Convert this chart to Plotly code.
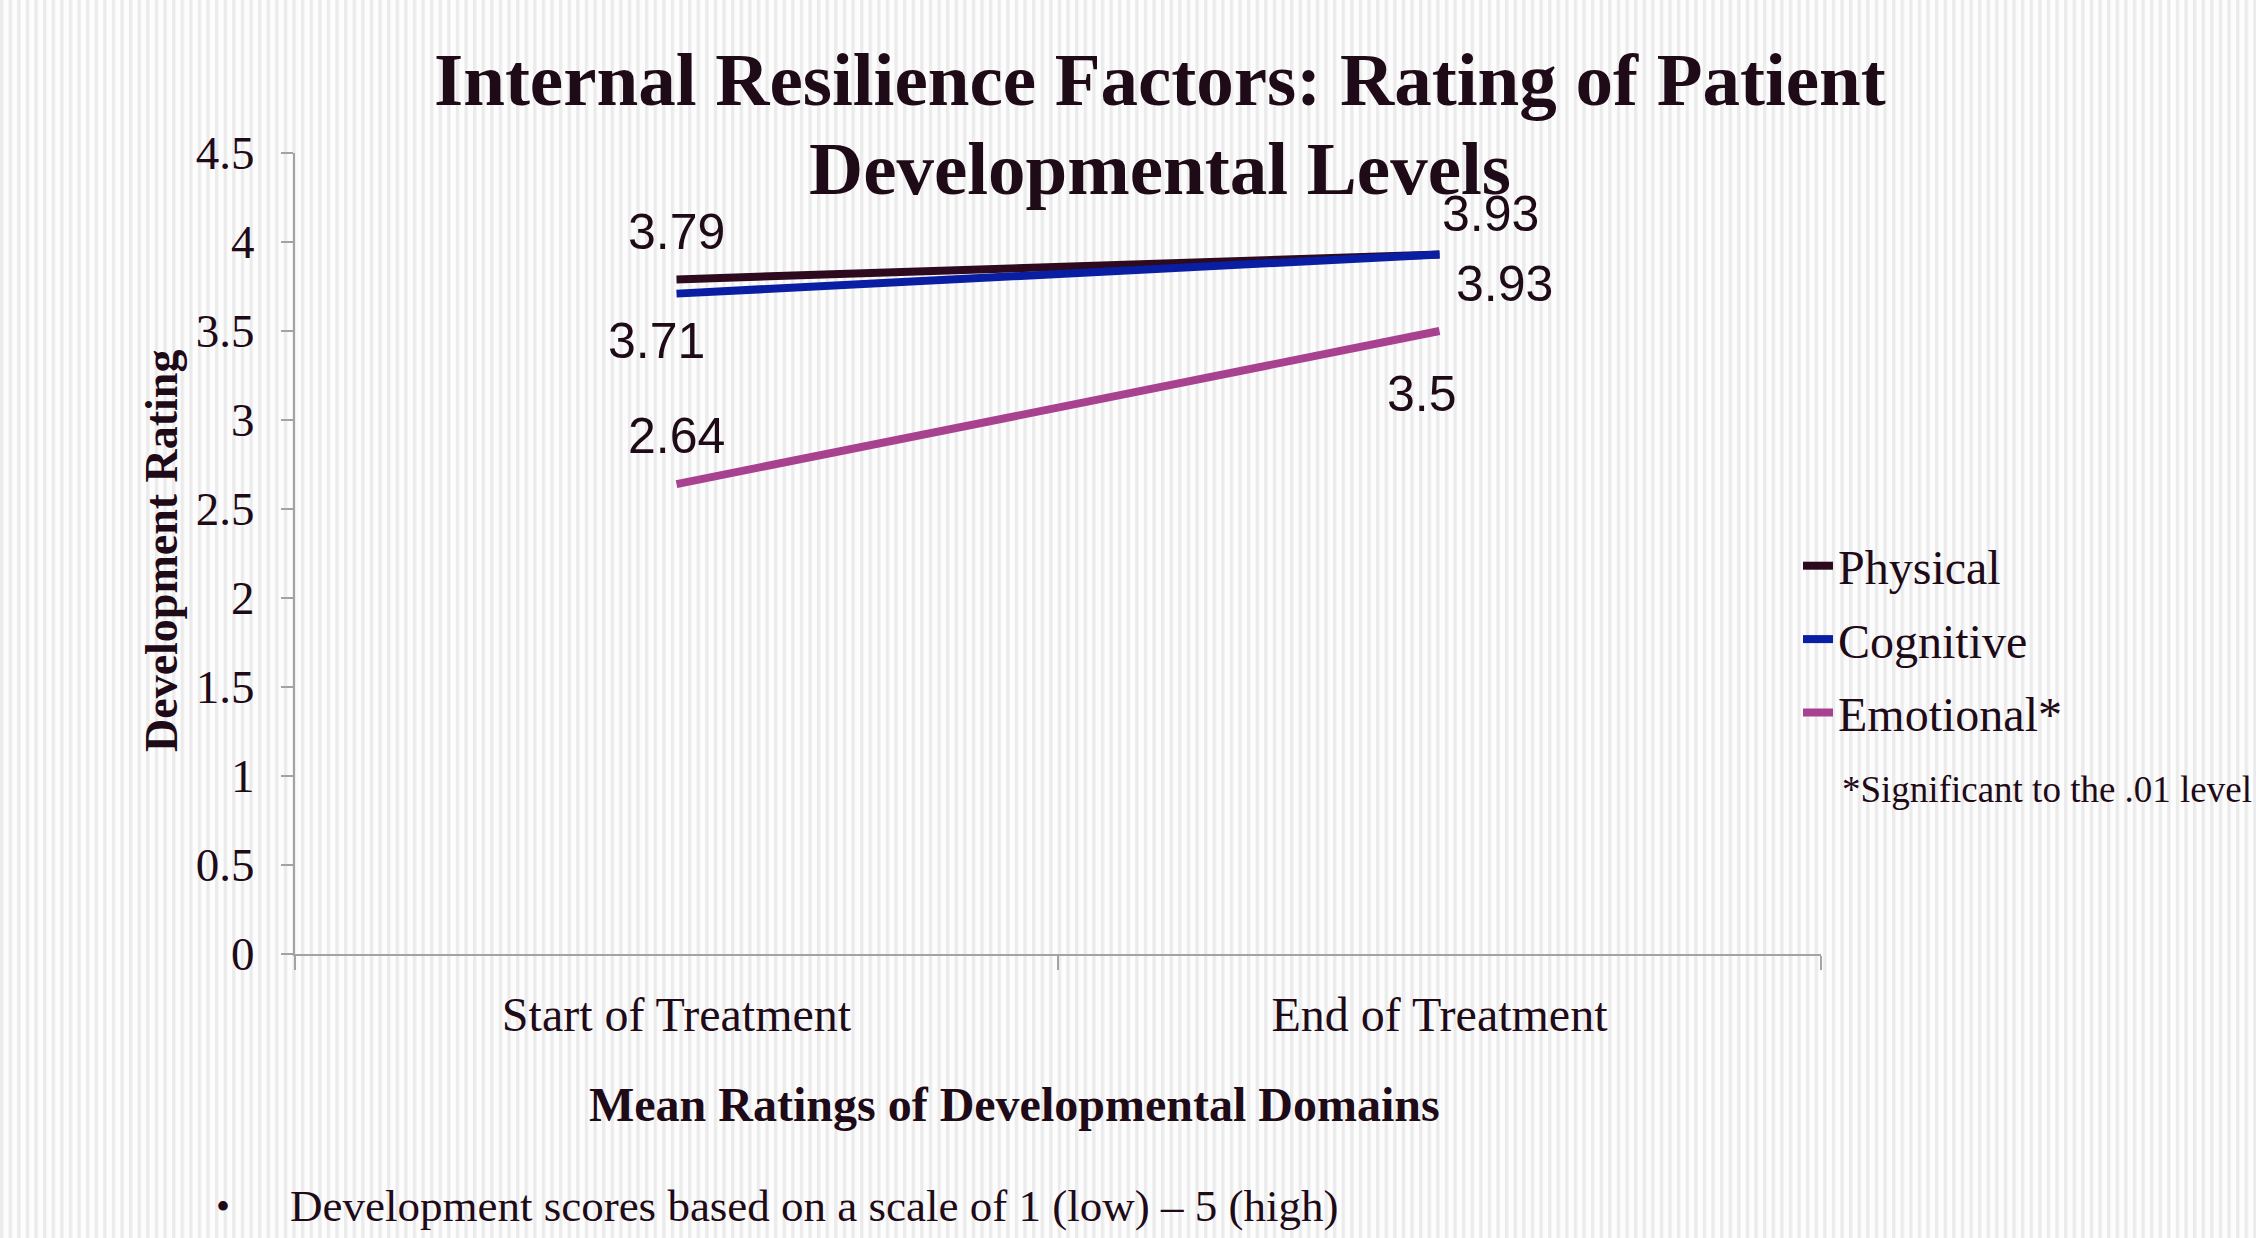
import base64
import plotly.graph_objects as go

# ---- data ----
categories = ["Start of Treatment", "End of Treatment"]
series_names = ["Physical", "Cognitive", "Emotional*"]
physical = [3.79, 3.93]
cognitive = [3.71, 3.93]
emotional = [2.64, 3.50]
value_labels_physical = ["3.79", "3.93"]
value_labels_cognitive = ["3.71", "3.93"]
value_labels_emotional = ["2.64", "3.5"]
y_ticks = [0, 0.5, 1, 1.5, 2, 2.5, 3, 3.5, 4, 4.5]
y_tick_text = ["0", "0.5", "1", "1.5", "2", "2.5", "3", "3.5", "4", "4.5"]

# ---- styles / layout constants ----
W, H = 2256, 1238
L, R, T, B = 295, W - 1821, 153, H - 954
PW, PH = W - L - R, H - T - B
TXT = "#1f0a17"
AXIS = "#a3a3a3"
colors = ["#2d0a1e", "#0a1ea3", "#a8418f"]
serif = "Liberation Serif, Times New Roman, serif"
sans = "Liberation Sans, Arial, sans-serif"

# label pixel offsets (xshift, yshift) per series per point
offsets = [
    [(0, 47), (51, 40)],
    [(-20, -47), (65, -30)],
    [(0, 48), (-18, -63)],
]

def px_x(p):
    return (p - L) / PW

def px_y(p):
    return (H - B - p) / PH

fig = go.Figure()
all_vals = [physical, cognitive, emotional]
all_labels = [value_labels_physical, value_labels_cognitive, value_labels_emotional]
for name, vals, col in zip(series_names, all_vals, colors):
    fig.add_trace(go.Scatter(
        x=categories, y=vals, name=name, mode="lines",
        line=dict(color=col, width=8), legendgroup=name,
    ))

annotations = []
for vals, labs, offs in zip(all_vals, all_labels, offsets):
    for cat, v, lab, (dx, dy) in zip(categories, vals, labs, offs):
        annotations.append(dict(
            x=cat, y=v, xref="x", yref="y", text=lab, showarrow=False,
            xshift=dx, yshift=dy, font=dict(family=sans, size=50, color=TXT),
        ))

# title (two lines)
annotations.append(dict(x=px_x(1160), y=px_y(79), xref="paper", yref="paper",
    text="<b>Internal Resilience Factors: Rating of Patient</b>", showarrow=False,
    xanchor="center", yanchor="middle", font=dict(family=serif, size=75, color=TXT)))
annotations.append(dict(x=px_x(1160), y=px_y(168), xref="paper", yref="paper",
    text="<b>Developmental Levels</b>", showarrow=False,
    xanchor="center", yanchor="middle", font=dict(family=serif, size=75, color=TXT)))
# axis titles
annotations.append(dict(x=px_x(1014), y=px_y(1104), xref="paper", yref="paper",
    text="<b>Mean Ratings of Developmental Domains</b>", showarrow=False,
    xanchor="center", yanchor="middle", font=dict(family=serif, size=48, color=TXT)))
annotations.append(dict(x=px_x(161), y=px_y(551), xref="paper", yref="paper",
    text="<b>Development Rating</b>", showarrow=False, textangle=-90,
    xanchor="center", yanchor="middle", font=dict(family=serif, size=46, color=TXT)))
# footnote in legend area
annotations.append(dict(x=px_x(1840), y=px_y(789), xref="paper", yref="paper",
    text="*Significant to the .01 level", showarrow=False,
    xanchor="left", yanchor="middle", font=dict(family=serif, size=37, color=TXT)))
# bullet note
annotations.append(dict(x=px_x(223), y=px_y(1206), xref="paper", yref="paper",
    text="•", showarrow=False, xanchor="center", yanchor="middle",
    font=dict(family=serif, size=40, color=TXT)))
annotations.append(dict(x=px_x(288), y=px_y(1206), xref="paper", yref="paper",
    text="Development scores based on a scale of 1 (low) – 5 (high)", showarrow=False,
    xanchor="left", yanchor="middle", font=dict(family=serif, size=45, color=TXT)))

# striped background as an inline SVG image
svg = (
    f'<svg xmlns="http://www.w3.org/2000/svg" width="{W}" height="{H}">'
    '<defs><pattern id="p" width="8.6" height="20" patternUnits="userSpaceOnUse">'
    '<rect x="0" y="0" width="3.4" height="20" fill="#ebebeb"/></pattern></defs>'
    f'<rect width="{W}" height="{H}" fill="#fdfdfd"/>'
    f'<rect width="{W}" height="{H}" fill="url(#p)"/></svg>'
)
svg_uri = "data:image/svg+xml;base64," + base64.b64encode(svg.encode()).decode()

fig.update_layout(
    width=W, height=H,
    margin=dict(l=L, r=R, t=T, b=B, pad=0),
    paper_bgcolor="white", plot_bgcolor="rgba(0,0,0,0)",
    images=[dict(source=svg_uri, xref="paper", yref="paper",
                 x=-L / PW, y=1 + T / PH, sizex=W / PW, sizey=H / PH,
                 xanchor="left", yanchor="top", sizing="stretch", layer="below")],
    annotations=annotations,
    showlegend=True,
    legend=dict(x=px_x(1798), y=px_y(528), xanchor="left", yanchor="top",
                bgcolor="rgba(0,0,0,0)", font=dict(family=serif, size=48, color=TXT),
                tracegroupgap=8, itemwidth=30, traceorder="grouped"),
    xaxis=dict(type="category", categoryorder="array", categoryarray=categories,
               range=[-0.5, 1.5], showline=True, linecolor=AXIS, linewidth=2,
               ticks="outside", tickson="boundaries", ticklen=14, tickcolor=AXIS,
               tickwidth=2, showgrid=False, zeroline=False, ticklabelstandoff=17,
               tickfont=dict(family=serif, size=48, color=TXT)),
    yaxis=dict(range=[0, 4.5], tickvals=y_ticks, ticktext=y_tick_text,
               showline=True, linecolor=AXIS, linewidth=2, ticks="outside",
               ticklen=12, tickcolor=AXIS, tickwidth=2, showgrid=False,
               zeroline=False, ticklabelstandoff=17,
               tickfont=dict(family=serif, size=47, color=TXT)),
)

fig.write_html("out.html", config={"displayModeBar": False},
               post_script="document.body.style.margin='0';")
